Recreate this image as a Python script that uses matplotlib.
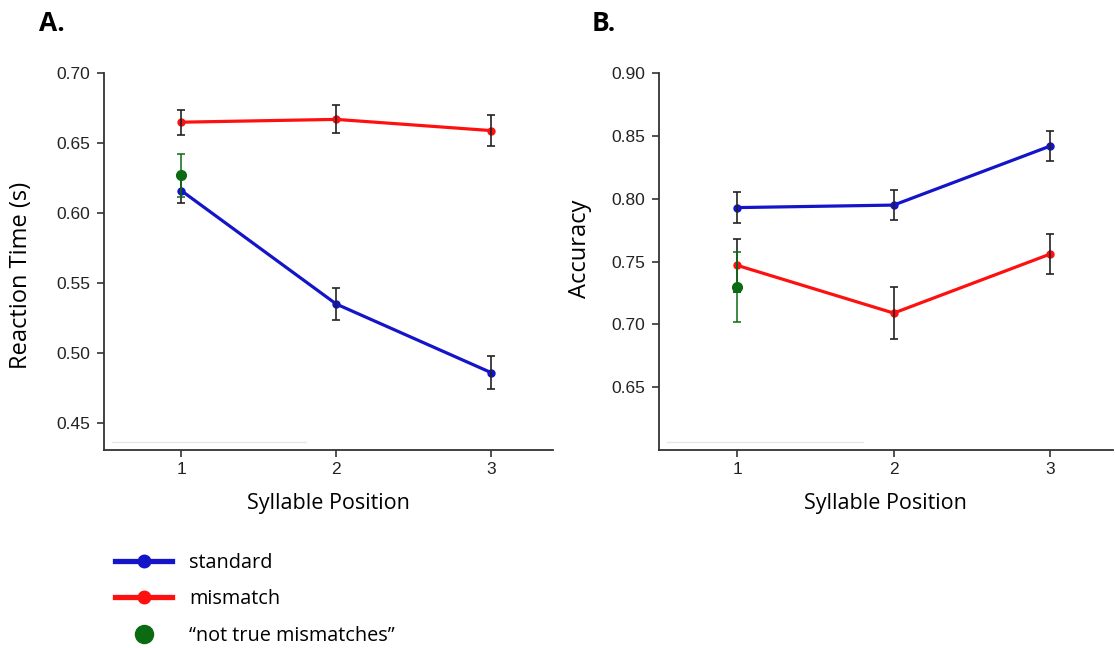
import matplotlib.pyplot as plt
from matplotlib.lines import Line2D

# data
positions = [1, 2, 3]

rt_standard = [0.616, 0.535, 0.486]
rt_standard_err = [0.009, 0.0115, 0.012]
rt_mismatch = [0.665, 0.667, 0.659]
rt_mismatch_err = [0.009, 0.010, 0.011]
rt_not_true = [0.627]
rt_not_true_err = [0.0155]

acc_standard = [0.793, 0.795, 0.842]
acc_standard_err = [0.0125, 0.012, 0.012]
acc_mismatch = [0.747, 0.709, 0.756]
acc_mismatch_err = [0.021, 0.021, 0.016]
acc_not_true = [0.730]
acc_not_true_err = [0.028]

rt_ticks = [0.45, 0.50, 0.55, 0.60, 0.65, 0.70]
acc_ticks = [0.65, 0.70, 0.75, 0.80, 0.85, 0.90]

BLUE = '#1414c8'
RED = '#ff1010'
GREEN = '#0b6b12'
SPINE = '#333333'
LABEL_FONT = ['Open Sans', 'DejaVu Sans']
TICK_FONT = ['Liberation Sans', 'DejaVu Sans']


def draw_panel(ax, std, std_err, mis, mis_err, nt, nt_err, ylim, yticks,
               ylabel, ylabel_xy):
    # lines with small markers
    ax.plot(positions, mis, color=RED, lw=2.3, marker='o', ms=5, zorder=3)
    ax.plot(positions, std, color=BLUE, lw=2.3, marker='o', ms=5, zorder=3)
    # black error bars on top
    ax.errorbar(positions, mis, yerr=mis_err, fmt='none', ecolor='#222222',
                elinewidth=1.2, capsize=3, capthick=1.2, zorder=4)
    ax.errorbar(positions, std, yerr=std_err, fmt='none', ecolor='#222222',
                elinewidth=1.2, capsize=3, capthick=1.2, zorder=4)
    # "not true mismatches" point
    ax.errorbar(positions[:1], nt, yerr=nt_err, fmt='o', color=GREEN, ms=7,
                elinewidth=1.1, capsize=3, capthick=1.1, zorder=5)

    ax.set_xlim(0.5, 3.4)
    ax.set_ylim(*ylim)
    ax.set_xticks(positions)
    ax.set_yticks(yticks)
    ax.set_yticklabels(['%.2f' % t for t in yticks])

    for side in ['top', 'right']:
        ax.spines[side].set_visible(False)
    for side in ['left', 'bottom']:
        ax.spines[side].set_color(SPINE)
        ax.spines[side].set_linewidth(1.3)
    ax.spines['left'].set_bounds(ylim[0], yticks[-1])

    ax.tick_params(colors=SPINE, length=5, width=1.2, labelsize=12.5, pad=5)
    ax.tick_params(axis='x', pad=4)
    for lab in ax.get_xticklabels() + ax.get_yticklabels():
        lab.set_family(TICK_FONT)
        lab.set_color('#222222')

    # faint leftover line near the bottom
    ax.plot([0.018, 0.45], [0.02, 0.02], transform=ax.transAxes,
            color='#e6e6e6', lw=1, zorder=1)

    ax.set_xlabel('Syllable Position', fontsize=15.5, family=LABEL_FONT, labelpad=11)
    ax.set_ylabel(ylabel, fontsize=17, family=LABEL_FONT)
    ax.yaxis.set_label_coords(*ylabel_xy)


fig = plt.figure(figsize=(11.15, 6.48), dpi=100)
ax_a = fig.add_axes([0.0933, 0.3056, 0.4027, 0.5814])
ax_b = fig.add_axes([0.591, 0.3056, 0.407, 0.5814])

draw_panel(ax_a, rt_standard, rt_standard_err, rt_mismatch, rt_mismatch_err,
           rt_not_true, rt_not_true_err, (0.4307, 0.70), rt_ticks,
           'Reaction Time (s)', (-0.158, 0.464))
draw_panel(ax_b, acc_standard, acc_standard_err, acc_mismatch, acc_mismatch_err,
           acc_not_true, acc_not_true_err, (0.60, 0.90), acc_ticks,
           'Accuracy', (-0.148, 0.533))

fig.text(0.035, 0.963, 'A.', fontsize=19, fontweight='bold', family=LABEL_FONT,
         va='center', ha='left')
fig.text(0.531, 0.963, 'B.', fontsize=19, fontweight='bold', family=LABEL_FONT,
         va='center', ha='left')

handles = [
    Line2D([], [], color=BLUE, lw=3.8, marker='o', ms=9),
    Line2D([], [], color=RED, lw=3.8, marker='o', ms=9),
    Line2D([], [], color=GREEN, lw=0, marker='o', ms=13),
]
fig.legend(handles, ['standard', 'mismatch', '\u201cnot true mismatches\u201d'],
           loc='upper left', bbox_to_anchor=(0.103, 0.147), frameon=False,
           borderpad=0, borderaxespad=0, handlelength=2.9, handletextpad=0.85,
           labelspacing=0.83, prop={'family': LABEL_FONT, 'size': 14.3})

fig.savefig('out.png', dpi=100)
